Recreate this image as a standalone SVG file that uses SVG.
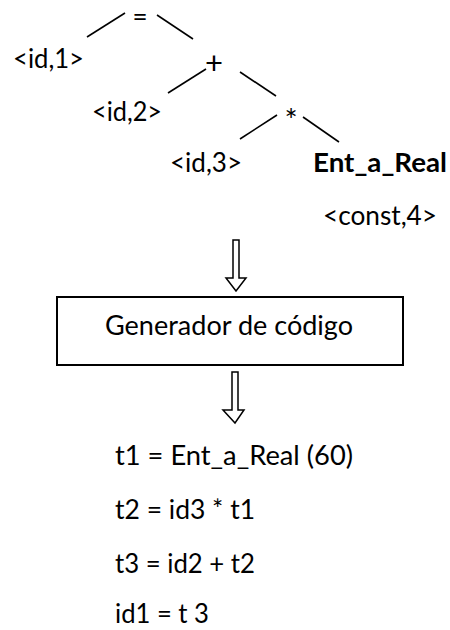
<svg xmlns="http://www.w3.org/2000/svg" width="450" height="630" viewBox="0 0 450 630">
<style>
text{font-family:Lato,"Open Sans","Liberation Sans",sans-serif;font-size:26px;fill:#000}
.b{font-weight:bold}
.op{font-size:31px}
.e{stroke:#000;stroke-width:1.6;fill:none}
.arr{stroke:#000;stroke-width:1.5;fill:#fff;stroke-linejoin:miter}
.box{stroke:#000;stroke-width:2;fill:#fff}
</style>
<rect width="450" height="630" fill="#fff"/>
<g id="connectors">
<line class="e" x1="87" y1="37" x2="125" y2="13"/>
<line class="e" x1="157" y1="15" x2="193" y2="39"/>
<line class="e" x1="168" y1="93" x2="206" y2="69"/>
<line class="e" x1="240" y1="72" x2="276" y2="96"/>
<line class="e" x1="240" y1="139" x2="277" y2="115"/>
<line class="e" x1="303" y1="117" x2="339" y2="142"/>
<polygon class="arr" points="233,240 239,240 239,278 246,278 236,291 226,278 233,278"/>
<polygon class="arr" points="232,372 238,372 238,410 244,410 235,423 223,410 232,410"/>
</g>
<g id="n-assign"><text x="140" y="26" text-anchor="middle" font-size="27">=</text></g>
<g id="n-id1"><text x="13" y="68" textLength="71" lengthAdjust="spacingAndGlyphs">&lt;id,1&gt;</text></g>
<g id="n-plus"><text class="op" x="214" y="74" text-anchor="middle">+</text></g>
<g id="n-id2"><text x="92" y="121" textLength="70" lengthAdjust="spacingAndGlyphs">&lt;id,2&gt;</text></g>
<g id="n-mul"><text class="op" x="291" y="131" text-anchor="middle">*</text></g>
<g id="n-id3"><text x="170" y="172" textLength="72" lengthAdjust="spacingAndGlyphs">&lt;id,3&gt;</text></g>
<g id="n-ent"><text class="b" x="313" y="172" textLength="134" lengthAdjust="spacingAndGlyphs">Ent_a_Real</text></g>
<g id="n-const"><text x="323" y="225" textLength="114" lengthAdjust="spacingAndGlyphs">&lt;const,4&gt;</text></g>
<g id="n-gen">
<rect class="box" x="57" y="297" width="346" height="68"/>
<text x="105" y="335" textLength="248" lengthAdjust="spacingAndGlyphs">Generador de código</text>
</g>
<g id="n-code">
<text x="115" y="465" textLength="238" lengthAdjust="spacingAndGlyphs">t1 = Ent_a_Real (60)</text>
<text x="115" y="519" textLength="140" lengthAdjust="spacingAndGlyphs">t2 = id3 * t1</text>
<text x="115" y="573" textLength="140" lengthAdjust="spacingAndGlyphs">t3 = id2 + t2</text>
<text x="115" y="623" textLength="94" lengthAdjust="spacingAndGlyphs">id1 = t 3</text>
</g>
</svg>
